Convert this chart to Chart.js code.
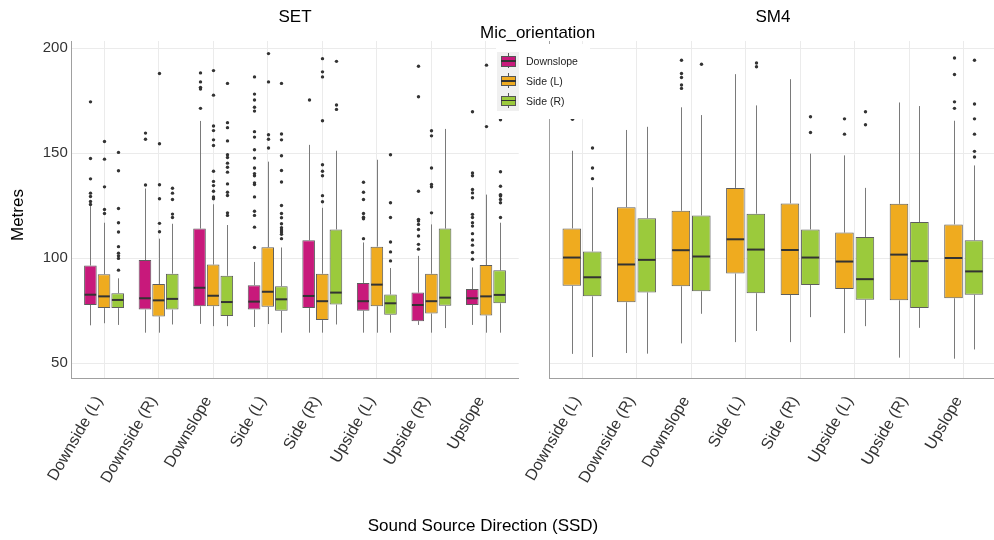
<!DOCTYPE html>
<html>
<head>
<meta charset="utf-8">
<script src="https://cdn.jsdelivr.net/npm/chart.js@4.4.1/dist/chart.umd.min.js"></script>
<style>
html,body{margin:0;padding:0;background:#fff;}
body{width:994px;height:540px;position:relative;overflow:hidden;font-family:"Liberation Sans",Arial,Helvetica,sans-serif;}
canvas{position:absolute;top:0;}
.lbl{position:absolute;white-space:nowrap;color:#000;font-size:17px;line-height:20px;}
.leg{position:absolute;white-space:nowrap;color:#222;font-size:10.5px;line-height:12px;}
</style>
</head>
<body>
<canvas id="cSET" width="528" height="540" style="left:0"></canvas>
<canvas id="cSM4" width="504" height="540" style="left:490px"></canvas>
<div class="lbl" style="left:295px;top:7px;transform:translateX(-50%)">SET</div>
<div class="lbl" style="left:773px;top:7px;transform:translateX(-50%)">SM4</div>
<div class="lbl" style="left:17.5px;top:214.5px;transform:translate(-50%,-50%) rotate(-90deg)">Metres</div>
<div class="lbl" style="left:483px;top:516px;transform:translateX(-50%)">Sound Source Direction (SSD)</div>
<div id="legend"></div>
<script>
const categories = ["Downside (L)","Downside (R)","Downslope","Side (L)","Side (R)","Upside (L)","Upside (R)","Upslope"];
const yTicks = [50, 100, 150, 200];
const seriesNames = ["Downslope", "Side (L)", "Side (R)"];

// each entry: [lower whisker, Q1, median, Q3, upper whisker]
const setDownslope = [
  [68.0, 77.7, 82.6, 96.5, 124.8],
  [64.5, 75.5, 80.9, 99.1, 133.2],
  [68.7, 77.1, 85.9, 114.1, 165.4],
  [67.2, 75.5, 79.3, 87.1, 98.2],
  [64.5, 76.2, 82.0, 108.5, 154.0],
  [64.5, 75.0, 79.5, 88.2, 107.5],
  [68.2, 70.0, 77.7, 83.6, 101.1],
  [68.2, 77.7, 80.9, 85.3, 95.6]
];
const setSideL = [
  [69.0, 76.2, 81.8, 92.4, 116.9],
  [64.5, 72.2, 79.9, 87.7, 109.3],
  [67.6, 77.1, 82.1, 97.0, 125.7],
  [68.6, 76.8, 84.0, 105.2, 146.0],
  [64.5, 70.5, 79.5, 92.6, 124.0],
  [64.5, 77.1, 87.4, 105.5, 146.9],
  [64.5, 73.6, 79.5, 92.6, 116.1],
  [64.5, 72.7, 81.8, 96.7, 130.3]
];
const setSideR = [
  [68.2, 76.2, 80.1, 83.3, 90.4],
  [68.4, 75.5, 80.6, 92.6, 116.4],
  [67.6, 72.5, 79.1, 91.6, 115.8],
  [64.5, 74.9, 80.4, 86.6, 105.1],
  [68.4, 77.9, 83.6, 113.7, 151.2],
  [64.5, 73.0, 78.5, 82.7, 95.3],
  [66.7, 77.3, 81.2, 114.1, 161.6],
  [64.5, 78.5, 82.5, 94.2, 116.9]
];
const setDownslopeOut = [
  [174.5, 147.5, 137.8, 131.0, 129.4, 127.0, 125.6],
  [159.6, 156.7, 134.9],
  [188.3, 184.0, 181.4, 180.6, 171.4],
  [186.4, 178.2, 175.4, 171.9, 170.1, 160.3, 157.7, 151.7, 147.7, 143.0, 140.3, 139.3, 135.9, 135.1, 129.2, 122.4, 120.4, 114.8, 105.1],
  [175.4],
  [136.2, 131.4, 128.0, 121.3, 119.5, 118.8, 109.3],
  [191.5, 176.9, 131.9, 118.5, 117.7, 116.1, 113.7, 110.6, 106.6, 104.3],
  [169.8, 140.6, 139.3, 132.7, 131.1, 128.8, 120.9, 119.4, 116.9, 115.3, 111.7, 108.7, 106.2, 102.7, 99.5]
];
const setSideLOut = [
  [155.6, 147.2, 134.0, 123.2, 121.3],
  [188.0, 154.5, 135.0, 128.3, 116.6, 112.6],
  [189.4, 177.7, 163.0, 160.8, 156.4, 153.7, 141.4, 136.6, 134.6, 131.9, 129.2, 128.3],
  [197.5, 184.0, 158.8, 156.7, 152.5],
  [195.1, 188.8, 186.4, 165.5, 144.5, 141.4, 139.3, 129.8, 126.9],
  [],
  [160.7, 158.3, 143.0, 135.1, 134.0, 121.6],
  [192.0, 162.7]
];
const setSideROut = [
  [150.4, 141.7, 123.7, 116.9, 112.5, 105.5, 102.4, 101.1, 99.9, 94.3],
  [133.3, 131.0, 128.0, 121.0, 119.4],
  [183.3, 164.6, 162.2, 155.9, 149.3, 148.0, 145.3, 143.3, 141.0, 135.4, 131.4, 129.9, 121.6, 120.4],
  [183.3, 159.2, 156.4, 148.8, 141.8, 136.3, 125.1, 121.3, 119.3, 116.4, 114.5, 113.4, 112.5, 111.4, 109.3],
  [193.8, 173.0, 170.9],
  [149.3, 126.4, 119.4, 107.7, 103.0, 98.7],
  [],
  [166.0, 141.2, 134.3, 130.3, 129.9, 129.6, 128.0, 126.4, 119.4]
];

const sm4SideL = [
  [54.4, 86.9, 100.3, 114.2, 151.2],
  [54.8, 79.0, 97.0, 124.3, 161.1],
  [59.4, 86.6, 103.8, 122.6, 171.9],
  [60.0, 92.7, 109.0, 133.5, 187.7],
  [60.0, 82.5, 103.9, 126.1, 185.3],
  [64.3, 85.3, 98.4, 112.2, 149.0],
  [52.6, 79.9, 101.7, 125.9, 174.2],
  [52.1, 80.9, 100.1, 116.1, 165.5]
];
const sm4SideR = [
  [52.9, 81.8, 90.9, 103.2, 133.8],
  [54.5, 83.7, 99.2, 119.0, 162.6],
  [73.5, 84.2, 100.8, 120.4, 168.2],
  [65.3, 83.3, 104.1, 121.2, 172.8],
  [71.9, 87.2, 100.3, 113.7, 149.8],
  [67.6, 80.2, 90.0, 110.1, 133.5],
  [66.8, 76.3, 98.6, 117.2, 172.5],
  [56.5, 82.6, 93.7, 108.5, 144.2]
];
const sm4SideLOut = [[166.2], [], [194.3, 188.0, 186.1, 182.5, 180.9], [], [], [166.4, 159.1], [], [195.4, 187.5, 174.5, 171.4]];
const sm4SideROut = [[152.5, 143.0, 137.9], [], [192.4], [193.0, 191.2], [167.4, 159.9], [169.8, 163.6], [], [194.3, 173.5, 166.4, 159.1, 150.9, 148.2]];

const COLORS = {"Downslope": "#C8197B", "Side (L)": "#EFAB1F", "Side (R)": "#9BCA3C"};
const FONT = '"Liberation Sans", Arial, Helvetica, sans-serif';
Chart.defaults.font.family = FONT;

function makeBoxPlugin(stats, outs) {
  return {
    id: 'boxParts',
    afterDatasetsDraw(chart) {
      const ctx = chart.ctx, ys = chart.scales.y;
      chart.data.datasets.forEach((ds, di) => {
        const meta = chart.getDatasetMeta(di);
        meta.data.forEach((bar, i) => {
          const s = stats[di][i];
          const x = Math.round(bar.x) + 0.5, w = bar.width;
          ctx.save();
          ctx.strokeStyle = '#7a7a7a';
          ctx.lineWidth = 1;
          ctx.beginPath();
          ctx.moveTo(x, ys.getPixelForValue(s[3]));
          ctx.lineTo(x, ys.getPixelForValue(s[4]));
          ctx.moveTo(x, ys.getPixelForValue(s[1]));
          ctx.lineTo(x, ys.getPixelForValue(s[0]));
          ctx.stroke();
          ctx.strokeStyle = '#333333';
          ctx.lineWidth = 2;
          const ym = ys.getPixelForValue(s[2]);
          ctx.beginPath();
          ctx.moveTo(bar.x - w / 2 + 0.5, ym);
          ctx.lineTo(bar.x + w / 2 - 0.5, ym);
          ctx.stroke();
          ctx.fillStyle = '#333333';
          outs[di][i].forEach(v => {
            ctx.beginPath();
            ctx.arc(x, ys.getPixelForValue(v), 1.7, 0, Math.PI * 2);
            ctx.fill();
          });
          ctx.restore();
        });
      });
    }
  };
}

function makeChart(id, names, stats, outs, opts) {
  const datasets = names.map((n, di) => ({
    label: n,
    data: stats[di].map((s, i) => ({x: i, y: [s[1], s[3]]})),
    backgroundColor: COLORS[n],
    borderColor: '#5e5e5e',
    borderWidth: 1,
    borderSkipped: false,
    categoryPercentage: 0.75,
    barPercentage: opts.barPct
  }));
  return new Chart(document.getElementById(id), {
    type: 'bar',
    data: {datasets},
    plugins: [makeBoxPlugin(stats, outs)],
    options: {
      responsive: false,
      animation: false,
      events: [],
      layout: {padding: {left: 0, right: opts.padRight, top: 41, bottom: 0}},
      plugins: {legend: {display: false}, tooltip: {enabled: false}, title: {display: false}},
      scales: {
        x: {
          type: 'linear', min: -0.6, max: opts.xMax, offset: false,
          afterBuildTicks: s => { s.ticks = categories.map((_, i) => ({value: i})); },
          afterFit: s => { s.height = 162; s.paddingLeft = 0; s.paddingRight = 0; },
          ticks: {
            autoSkip: false, minRotation: 60, maxRotation: 60, padding: 15, labelOffset: -5,
            color: '#333', font: {size: 16, family: FONT},
            callback: v => categories[v]
          },
          grid: {color: '#ebebeb', drawTicks: false, offset: false},
          border: {color: '#a0a0a0', width: 1}
        },
        y: {
          min: 42.9, max: 203.5,
          afterBuildTicks: s => { s.ticks = yTicks.map(v => ({value: v})); },
          afterFit: s => { s.width = opts.yWidth; },
          ticks: {display: opts.showY, color: '#333', font: {size: 15, family: FONT}, padding: 3.5},
          grid: {color: '#ebebeb', drawTicks: false},
          border: {color: '#a0a0a0', width: 1}
        }
      }
    }
  });
}

makeChart('cSET', seriesNames,
  [setDownslope, setSideL, setSideR],
  [setDownslopeOut, setSideLOut, setSideROut],
  {barPct: 0.925, padRight: 9.3, xMax: 7.6, yWidth: 71.3, showY: true});

makeChart('cSM4', [seriesNames[1], seriesNames[2]],
  [sm4SideL, sm4SideR],
  [sm4SideLOut, sm4SideROut],
  {barPct: 0.91, padRight: 0, xMax: 7.555, yWidth: 59.3, showY: false});

// legend (overlaid, white background as in the reference)
const leg = document.getElementById('legend');
let html = '<div style="position:absolute;left:496px;top:44px;width:94px;height:75px;background:#fff"></div>';
html += '<div class="lbl" style="left:480px;top:23px">Mic_orientation</div>';
html += '<div style="position:absolute;left:497px;top:52px;width:22px;height:59px;background:#f0f0f0"></div>';
seriesNames.forEach((n, i) => {
  const off = i * 19.8;
  html += `<div style="position:absolute;left:508px;top:${53.3 + off}px;width:1px;height:15px;background:#555"></div>`;
  html += `<div style="position:absolute;left:501px;top:${56 + off}px;width:15px;height:10.5px;box-sizing:border-box;border:1px solid #555;background:${COLORS[n]}"></div>`;
  html += `<div style="position:absolute;left:501px;top:${60.2 + off}px;width:15px;height:1.6px;background:#333"></div>`;
  html += `<div class="leg" style="left:526px;top:${55.4 + off}px">${n}</div>`;
});
leg.innerHTML = html;
</script>
</body>
</html>
